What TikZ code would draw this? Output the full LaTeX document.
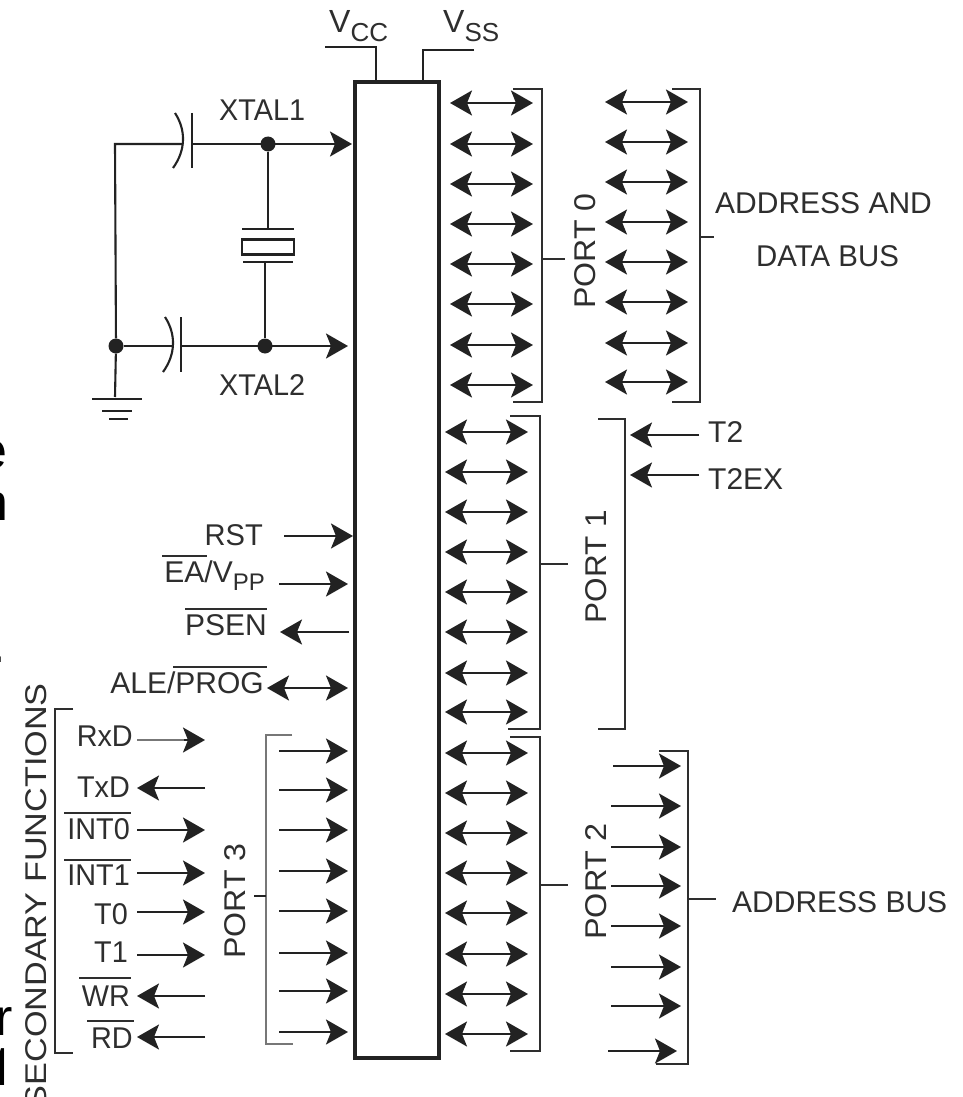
\documentclass[tikz,border=0pt]{standalone}
\usepackage{fontspec}
\usepackage{graphicx}
\setmainfont{Liberation Sans}
\newfontfamily\heros{TeX Gyre Heros}
\usetikzlibrary{arrows.meta}
\definecolor{ink}{HTML}{222222}
\definecolor{txt}{HTML}{2E2E2E}
\definecolor{soft}{HTML}{777777}
\newcommand{\fs}[1]{\fontsize{#1}{#1}\selectfont}
\tikzset{
  head/.tip={Stealth[length=22pt,width=25pt,inset=5pt]},
  wire/.style={draw=ink,line width=2.1pt},
  uni/.style={wire,-{head}},
  bi/.style={wire,{head}-{head}},
  lab/.style={text=txt,inner sep=0pt,font=\fs{30}},
  labw/.style={lab,anchor=base west},
  labe/.style={lab,anchor=base east},
  vert/.style={lab,rotate=90,anchor=base east},
  stray/.style={text=black,inner sep=0pt,font=\fs{52},anchor=base east},
  dot/.style={circle,fill=ink,inner sep=0pt,minimum size=15pt},
  bar/.style={draw=txt,line width=1.8pt},
  chipbox/.style={draw=ink,line width=4.5pt,inner sep=0pt,outer sep=0pt,fill=white}
}
\begin{document}
\begin{tikzpicture}[x=1pt,y=-1pt]
\useasboundingbox (0,0) rectangle (963,1097);
\clip (0,0) rectangle (963,1097);
\fill[white] (0,0) rectangle (963,1097);
% stray text at the cut edge
\node[stray] (s1) at (8,468) {e};
\node[stray] (s2) at (9,520) {n};
\node[stray] (s3) at (6,662) {.};
\node[stray] (s4) at (13,1035) {r};
\node[stray] (s5) at (16,1085) {\heros 1};
% chip
\node[chipbox,minimum width=84pt,minimum height=976pt,anchor=north west] (chip) at (355,82) {};
% supply
\coordinate (vcc0) at (325,47); \coordinate (vcc1) at (376,47); \coordinate (vcc2) at (376,82);
\coordinate (vss0) at (474,50); \coordinate (vss1) at (423,50); \coordinate (vss2) at (423,82);
\draw[wire] (vcc0) -- (vcc1) -- (vcc2);
\draw[wire] (vss0) -- (vss1) -- (vss2);
\node[labw,font=\fs{32}] (vcc) at (329,33) {V{\fs{26}\raisebox{-9pt}{CC}}};
\node[labw,font=\fs{32}] (vss) at (443,33) {V{\fs{26}\raisebox{-9pt}{SS}}};
% crystal circuit
\node[dot] (d1) at (268,144) {};
\node[dot] (d2) at (265,346) {};
\node[dot] (d3) at (116,346) {};
\coordinate (t1) at (352,144); \coordinate (t2) at (348,346);
\coordinate (c1p) at (192,144); \coordinate (c2p) at (181,346);
\coordinate (c1a) at (183,144); \coordinate (c2a) at (172,346);
\coordinate (cnr) at (115,144);
\draw[uni] (c1p) -- (t1);
\draw[wire] (c1p) -- (d1);
\draw[uni] (c2p) -- (t2);
\draw[wire] (d3) -- (c2a);
\draw[wire] (d3) -- (cnr) -- (c1a);
\draw[wire] (192,113) -- (192,168);
\draw[wire] (181,317) -- (181,372);
\draw[wire] (175,113) .. controls (186,130) and (186,150) .. (173,168);
\draw[wire] (165,317) .. controls (176,334) and (176,354) .. (163,372);
\node[labw] (x1) at (219,121) {\scalebox{.96}[1]{XTAL1}};
\node[labw] (x2) at (219,395) {\scalebox{.96}[1]{XTAL2}};
% crystal
\coordinate (q1) at (268,229); \coordinate (q2) at (265,262);
\draw[wire] (d1) -- (q1);
\draw[wire] (q2) -- (d2);
\draw[wire] (242,229) -- (294,229);
\draw[wire] (243,262) -- (293,262);
\node[draw=ink,line width=2.1pt,minimum width=52pt,minimum height=15pt,inner sep=0pt,outer sep=0pt] (qz) at (268,247) {};
% ground
\coordinate (g0) at (115,397);
\draw[wire] (d3) -- (g0);
\draw[wire] (92,399) -- (142,399);
\draw[wire] (102,411) -- (132,411);
\draw[wire] (109,419) -- (128,419);
% port 0
\foreach \y [count=\i] in {103,144,184,224,264,304,345,385} {
  \coordinate (a0\i) at (450,\y); \coordinate (b0\i) at (533,\y);
  \draw[bi] (a0\i) -- (b0\i);
}
\foreach \y [count=\i] in {102,142,182,222,262,302,343,382} {
  \coordinate (c0\i) at (605,\y); \coordinate (e0\i) at (688,\y);
  \draw[bi] (c0\i) -- (e0\i);
}
\draw[bar] (513,89) -- (542,89) -- (542,402) -- (513,402);
\draw[bar] (542,259) -- (565,259);
\node[vert] (p0) at (595,193) {\scalebox{1.07}[1]{PORT 0}};
\draw[bar] (672,89) -- (700,89) -- (700,402) -- (672,402);
\draw[bar] (700,237) -- (714,237);
\node[labw] (adb1) at (715,213) {ADDRESS AND};
\node[labw] (adb2) at (756,266) {\scalebox{.98}[1]{DATA BUS}};
% port 1
\foreach \y [count=\i] in {432,472,512,552,592,632,673,712} {
  \coordinate (a1\i) at (445,\y); \coordinate (b1\i) at (528,\y);
  \draw[bi] (a1\i) -- (b1\i);
}
\draw[bar] (510,416) -- (540,416) -- (540,729) -- (508,729);
\draw[bar] (540,564) -- (568,564);
\node[vert] (p1) at (606,510) {\scalebox{1.05}[1]{PORT 1}};
\draw[bar] (598,419) -- (625,419) -- (625,729) -- (598,729);
\coordinate (t2a) at (699,435); \coordinate (t2b) at (630,435);
\coordinate (t3a) at (699,475); \coordinate (t3b) at (630,475);
\draw[uni] (t2a) -- (t2b);
\draw[uni] (t3a) -- (t3b);
\node[labw] (t2l) at (708,442) {T2};
\node[labw] (t3l) at (708,489) {T2EX};
% port 2
\foreach \y [count=\i] in {753,793,833,873,913,954,994,1034} {
  \coordinate (a2\i) at (445,\y); \coordinate (b2\i) at (528,\y);
  \draw[bi] (a2\i) -- (b2\i);
}
\draw[bar] (510,737) -- (540,737) -- (540,1051) -- (510,1051);
\draw[bar] (540,885) -- (568,885);
\node[vert] (p2) at (606,823) {\scalebox{1.08}[1]{PORT 2}};
\foreach \y/\xa/\xb [count=\i] in {766/613/681,806/611/681,847/611/681,886/611/681,926/611/681,967/611/681,1006/611/681,1051/608/677} {
  \coordinate (c2\i) at (\xa,\y); \coordinate (e2\i) at (\xb,\y);
  \draw[uni] (c2\i) -- (e2\i);
}
\draw[bar] (659,751) -- (688,751) -- (688,1064) -- (656,1064);
\draw[bar] (688,899) -- (716,899);
\node[labw] (adr) at (732,912) {ADDRESS BUS};
% control
\coordinate (r0) at (284,536); \coordinate (r1) at (353,536);
\coordinate (ea0) at (279,584); \coordinate (ea1) at (348,584);
\coordinate (ps0) at (349,632); \coordinate (ps1) at (280,632);
\coordinate (al0) at (267,688); \coordinate (al1) at (348,688);
\draw[uni] (r0) -- (r1);
\draw[uni] (ea0) -- (ea1);
\draw[uni] (ps0) -- (ps1);
\draw[bi] (al0) -- (al1);
\node[labe] (rst) at (263,545) {\scalebox{.97}[1]{RST}};
\node[labe] (ea) at (265,582) {EA/V{\fs{24}\raisebox{-8pt}{PP}}};
\node[labe] (psen) at (267,635) {PSEN};
\node[labe] (ale) at (264,693) {ALE/PROG};
\draw[bar] (162,556) -- (207,556);
\draw[bar] (185,609) -- (267,609);
\draw[bar] (173,667) -- (267,667);
% port 3 input
\foreach \y [count=\i] in {751,790,830,871,911,953,991,1032} {
  \coordinate (a3\i) at (279,\y); \coordinate (b3\i) at (348,\y);
  \draw[uni] (a3\i) -- (b3\i);
}
\draw[bar,draw=soft] (292,735) -- (266,735) -- (266,1044) -- (293,1044);
\draw[bar,draw=ink] (254,896) -- (266,896);
\node[vert] (p3) at (245,843) {\scalebox{1.07}[1]{PORT 3}};
% secondary functions
\draw[bar] (73,709) -- (55,709) -- (55,1053) -- (73,1053);
\node[vert] (sf) at (46,683) {\scalebox{1.14}[1]{SECONDARY FUNCTIONS}};
\foreach \n/\txtl/\xr/\ybase/\yarr/\dir in {
  rxd/RxD/133/746/740/r, txd/TxD/130/797/788/l, int0/INT0/130/839/830/r,
  int1/INT1/130/885/873/r, t0/T0/128/924/912/r, t1/T1/128/962/955/r,
  wr/WR/130/1006/996/l, rd/RD/133/1048/1037/l} {
  \node[labe] (\n) at (\xr,\ybase) {\scalebox{.96}[1]{\txtl}};
  \coordinate (\n L) at (137,\yarr); \coordinate (\n R) at (205,\yarr);
  \if\dir r \draw[uni] (\n L) -- (\n R); \else \draw[uni] (\n R) -- (\n L); \fi
}
\coordinate (rxdM) at (184,740);
\draw[draw=soft,line width=2.1pt] (rxdL) -- (rxdM);
\draw[bar] (64,813) -- (131,813);
\draw[bar] (64,860) -- (131,860);
\draw[bar] (79,978) -- (131,978);
\draw[bar] (87,1021) -- (134,1021);
\end{tikzpicture}
\end{document}
